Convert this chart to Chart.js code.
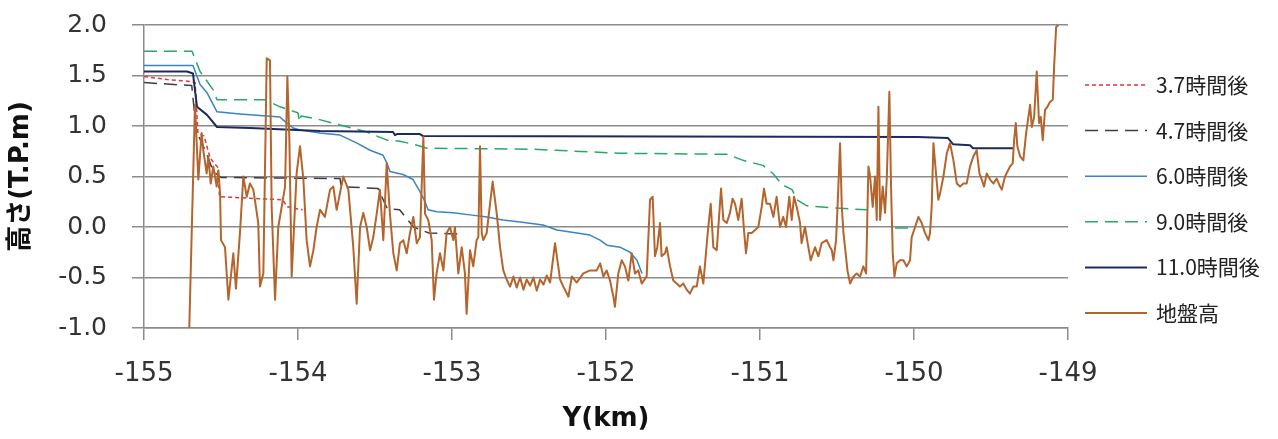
<!DOCTYPE html>
<html lang="ja">
<head>
<meta charset="utf-8">
<title>地盤高と浸水高</title>
<script src="https://cdn.jsdelivr.net/npm/chart.js@4.4.1/dist/chart.umd.min.js"></script>
<style>
  html, body { margin: 0; padding: 0; background: #ffffff; }
  #wrap { width: 1278px; height: 439px; }
</style>
</head>
<body>
<div id="wrap"><canvas id="profile" width="1278" height="439"></canvas></div>
<script>
// Axis ranges
const kmRange = [-155, -149];
const levelRange = [-1.0, 2.0];

// Series labels (legend order)
const seriesLabels = ['3.7時間後', '4.7時間後', '6.0時間後', '9.0時間後', '11.0時間後', '地盤高'];

// Water level along the profile, [Y(km), T.P.m]
const level37h = [
  [-155.000, 1.49], [-154.850, 1.46], [-154.690, 1.44], [-154.668, 1.43], [-154.650, 0.93],
  [-154.610, 0.90], [-154.570, 0.68], [-154.520, 0.59], [-154.510, 0.30], [-154.250, 0.28],
  [-154.100, 0.27], [-154.070, 0.20], [-153.970, 0.17]
];
const level47h = [
  [-155.000, 1.43], [-154.690, 1.40], [-154.660, 0.95], [-154.600, 0.75], [-154.550, 0.55],
  [-154.500, 0.49], [-153.727, 0.48], [-153.720, 0.40], [-153.480, 0.38], [-153.420, 0.18],
  [-153.340, 0.17], [-153.250, 0.00], [-153.150, -0.06], [-152.930, -0.07]
];
const level60h = [
  [-155.000, 1.60], [-154.682, 1.60], [-154.636, 1.41], [-154.591, 1.33], [-154.526, 1.14],
  [-154.377, 1.12], [-154.117, 1.09], [-154.097, 1.06], [-154.032, 0.98], [-153.987, 0.96],
  [-153.857, 0.93], [-153.727, 0.91], [-153.617, 0.83], [-153.532, 0.76], [-153.448, 0.71],
  [-153.422, 0.63], [-153.403, 0.55], [-153.318, 0.52], [-153.253, 0.47], [-153.208, 0.35],
  [-153.175, 0.25], [-153.156, 0.17], [-153.097, 0.15], [-152.994, 0.14], [-152.883, 0.12],
  [-152.773, 0.10], [-152.669, 0.07], [-152.558, 0.05], [-152.409, 0.02], [-152.318, -0.03],
  [-152.188, -0.06], [-152.104, -0.08], [-152.039, -0.13], [-151.994, -0.18], [-151.909, -0.20],
  [-151.844, -0.25], [-151.799, -0.33], [-151.766, -0.46]
];
const level90h = [
  [-155.000, 1.74], [-154.688, 1.74], [-154.636, 1.54], [-154.552, 1.36], [-154.526, 1.26],
  [-154.214, 1.26], [-154.117, 1.19], [-154.000, 1.13], [-153.990, 1.04], [-153.980, 1.10],
  [-153.877, 1.07], [-153.727, 1.01], [-153.552, 0.94], [-153.422, 0.86], [-153.338, 0.85],
  [-153.227, 0.81], [-153.162, 0.78], [-152.474, 0.77], [-151.909, 0.73], [-151.214, 0.72],
  [-151.110, 0.66], [-150.981, 0.61], [-150.916, 0.53], [-150.857, 0.42], [-150.792, 0.37],
  [-150.760, 0.27], [-150.695, 0.21], [-150.526, 0.19], [-150.305, 0.17], [-150.200, null],
  [-150.123, -0.01], [-150.013, -0.01]
];
const level110h = [
  [-155.000, 1.54], [-154.721, 1.54], [-154.682, 1.52], [-154.656, 1.19], [-154.591, 1.11],
  [-154.526, 0.99], [-154.312, 0.98], [-153.857, 0.95], [-153.383, 0.94], [-153.370, 0.91],
  [-153.357, 0.92], [-153.208, 0.92], [-153.188, 0.90], [-149.974, 0.89], [-149.779, 0.88],
  [-149.747, 0.82], [-149.636, 0.81], [-149.617, 0.78], [-149.357, 0.78]
];

// Ground elevation profile, [Y(km), T.P.m]
const groundProfile = [
  [-154.706, -1.00], [-154.669, 1.21], [-154.647, 0.47], [-154.626, 0.93], [-154.615, 0.76],
  [-154.593, 0.53], [-154.582, 0.70], [-154.567, 0.43], [-154.550, 0.60], [-154.528, 0.40],
  [-154.517, 0.56], [-154.506, 0.33], [-154.500, -0.13], [-154.474, -0.20], [-154.452, -0.72],
  [-154.420, -0.26], [-154.403, -0.61], [-154.377, -0.06], [-154.355, 0.50], [-154.333, 0.30],
  [-154.312, 0.43], [-154.290, 0.37], [-154.258, 0.04], [-154.247, -0.59], [-154.225, -0.46],
  [-154.203, 1.67], [-154.182, 1.65], [-154.171, 0.20], [-154.149, -0.72], [-154.128, 0.00],
  [-154.106, 0.20], [-154.084, 0.40], [-154.069, 1.49], [-154.056, 0.86], [-154.041, -0.49],
  [-154.009, 0.53], [-153.987, 0.80], [-153.965, 0.47], [-153.944, -0.13], [-153.922, -0.39],
  [-153.900, -0.23], [-153.879, 0.00], [-153.857, 0.17], [-153.825, 0.10], [-153.792, 0.37],
  [-153.771, 0.40], [-153.749, 0.17], [-153.706, 0.50], [-153.673, 0.37], [-153.641, -0.20],
  [-153.619, -0.76], [-153.597, 0.00], [-153.576, 0.14], [-153.554, 0.00], [-153.532, -0.23],
  [-153.511, -0.10], [-153.489, 0.13], [-153.468, 0.37], [-153.446, -0.13], [-153.424, 0.63],
  [-153.403, 0.13], [-153.381, -0.26], [-153.359, -0.43], [-153.338, -0.16], [-153.316, -0.13],
  [-153.294, -0.26], [-153.273, -0.06], [-153.251, 0.10], [-153.229, -0.16], [-153.208, -0.10],
  [-153.186, 0.89], [-153.175, 0.13], [-153.154, 0.07], [-153.132, -0.13], [-153.117, -0.72],
  [-153.100, -0.46], [-153.078, -0.26], [-153.056, -0.43], [-153.035, -0.06], [-153.013, 0.00],
  [-152.991, -0.13], [-152.981, 0.00], [-152.959, -0.46], [-152.937, -0.20], [-152.916, -0.46],
  [-152.905, -0.86], [-152.883, -0.23], [-152.862, -0.39], [-152.840, -0.13], [-152.829, -0.10],
  [-152.818, 0.80], [-152.807, -0.06], [-152.797, -0.13], [-152.775, -0.06], [-152.753, 0.23],
  [-152.736, 0.45], [-152.710, 0.14], [-152.688, -0.20], [-152.667, -0.43], [-152.645, -0.52],
  [-152.623, -0.59], [-152.601, -0.49], [-152.580, -0.60], [-152.558, -0.50], [-152.536, -0.62],
  [-152.515, -0.52], [-152.493, -0.58], [-152.471, -0.50], [-152.450, -0.63], [-152.428, -0.52],
  [-152.406, -0.57], [-152.385, -0.48], [-152.363, -0.55], [-152.331, -0.16], [-152.298, -0.52],
  [-152.277, -0.59], [-152.244, -0.69], [-152.222, -0.49], [-152.190, -0.55], [-152.147, -0.46],
  [-152.103, -0.43], [-152.060, -0.43], [-152.038, -0.36], [-152.017, -0.49], [-151.996, -0.43],
  [-151.974, -0.53], [-151.952, -0.69], [-151.942, -0.79], [-151.920, -0.46], [-151.898, -0.33],
  [-151.877, -0.39], [-151.855, -0.53], [-151.833, -0.26], [-151.812, -0.46], [-151.790, -0.43],
  [-151.768, -0.56], [-151.736, -0.49], [-151.714, 0.27], [-151.697, 0.30], [-151.682, -0.29],
  [-151.667, -0.20], [-151.649, 0.04], [-151.639, -0.29], [-151.617, -0.26], [-151.606, -0.20],
  [-151.584, -0.39], [-151.563, -0.53], [-151.541, -0.56], [-151.520, -0.59], [-151.498, -0.56],
  [-151.476, -0.62], [-151.455, -0.66], [-151.433, -0.59], [-151.411, -0.59], [-151.390, -0.39],
  [-151.368, -0.56], [-151.351, -0.26], [-151.336, 0.00], [-151.320, 0.23], [-151.303, -0.20],
  [-151.281, -0.23], [-151.264, 0.14], [-151.253, 0.38], [-151.238, 0.07], [-151.216, 0.04],
  [-151.195, 0.14], [-151.178, 0.28], [-151.162, 0.23], [-151.141, 0.07], [-151.119, 0.28],
  [-151.104, -0.03], [-151.091, -0.26], [-151.076, -0.06], [-151.054, -0.06], [-151.032, -0.03],
  [-151.011, 0.00], [-150.989, 0.20], [-150.974, 0.38], [-150.957, 0.23], [-150.935, 0.23],
  [-150.913, 0.10], [-150.892, 0.30], [-150.870, 0.00], [-150.849, 0.10], [-150.831, 0.00],
  [-150.810, 0.30], [-150.794, 0.07], [-150.779, 0.30], [-150.762, 0.20], [-150.740, 0.04],
  [-150.730, -0.16], [-150.708, 0.00], [-150.686, -0.20], [-150.671, -0.33], [-150.643, -0.20],
  [-150.621, -0.29], [-150.600, -0.16], [-150.567, -0.13], [-150.545, -0.20], [-150.534, -0.23],
  [-150.523, -0.33], [-150.506, -0.13], [-150.491, 0.40], [-150.480, 0.83], [-150.469, 0.20],
  [-150.458, -0.06], [-150.448, -0.20], [-150.432, -0.43], [-150.415, -0.56], [-150.393, -0.49],
  [-150.372, -0.46], [-150.350, -0.49], [-150.329, -0.39], [-150.311, -0.46], [-150.296, 0.60],
  [-150.285, 0.50], [-150.268, 0.20], [-150.253, 0.50], [-150.242, 0.07], [-150.231, 1.19],
  [-150.220, 0.07], [-150.203, 0.40], [-150.188, 0.14], [-150.177, 0.47], [-150.160, 1.34],
  [-150.149, 0.40], [-150.138, -0.26], [-150.127, -0.49], [-150.112, -0.36], [-150.090, -0.33],
  [-150.069, -0.33], [-150.047, -0.39], [-150.026, -0.33], [-150.015, -0.10], [-149.993, 0.00],
  [-149.971, 0.10], [-149.950, 0.04], [-149.928, -0.06], [-149.906, -0.13], [-149.896, -0.06],
  [-149.885, 0.20], [-149.874, 0.83], [-149.857, 0.53], [-149.842, 0.27], [-149.831, 0.33],
  [-149.809, 0.50], [-149.787, 0.73], [-149.766, 0.83], [-149.744, 0.66], [-149.722, 0.43],
  [-149.701, 0.40], [-149.679, 0.43], [-149.658, 0.43], [-149.636, 0.60], [-149.614, 0.70],
  [-149.593, 0.76], [-149.575, 0.53], [-149.560, 0.47], [-149.545, 0.40], [-149.528, 0.53],
  [-149.506, 0.47], [-149.484, 0.43], [-149.463, 0.48], [-149.441, 0.40], [-149.430, 0.37],
  [-149.409, 0.50], [-149.376, 0.60], [-149.359, 0.63], [-149.350, 0.86], [-149.339, 1.03],
  [-149.329, 0.80], [-149.311, 0.70], [-149.290, 0.66], [-149.272, 0.93], [-149.257, 1.09],
  [-149.246, 1.21], [-149.235, 0.99], [-149.220, 1.09], [-149.203, 1.54], [-149.188, 1.03],
  [-149.177, 1.09], [-149.164, 0.86], [-149.149, 1.16], [-149.134, 1.19], [-149.116, 1.24],
  [-149.099, 1.26], [-149.090, 1.59], [-149.077, 1.98], [-149.062, 2.00]
];

const toPoints = (rows) => rows.map(([x, y]) => ({ x, y }));

const seriesStyle = [
  { data: level37h,       color: '#e0353f', width: 1.5, dash: [4, 3],  order: 6 },
  { data: level47h,       color: '#3d3d48', width: 1.5, dash: [13, 7], order: 5 },
  { data: level60h,       color: '#3a84c6', width: 1.5, dash: [],      order: 4 },
  { data: level90h,       color: '#27a86a', width: 1.5, dash: [13, 7], order: 3 },
  { data: level110h,      color: '#1d2b5c', width: 2,   dash: [],      order: 2 },
  { data: groundProfile,  color: '#b4642c', width: 2,   dash: [],      order: 1 }
];

const datasets = seriesStyle.map((s, i) => ({
  label: seriesLabels[i],
  data: toPoints(s.data),
  borderColor: s.color,
  backgroundColor: s.color,
  borderWidth: s.width,
  borderDash: s.dash,
  borderJoinStyle: 'round',
  pointRadius: 0,
  pointHoverRadius: 0,
  tension: 0,
  spanGaps: false,
  fill: false,
  order: s.order
}));

// Legend drawn as a column of line samples beside the plot
const sideLegend = {
  id: 'sideLegend',
  afterDraw(chart, args, opts) {
    const ctx = chart.ctx;
    ctx.save();
    chart.data.datasets.forEach((ds, i) => {
      const y = opts.top + i * opts.rowGap;
      ctx.beginPath();
      ctx.setLineDash(ds.borderDash || []);
      ctx.lineWidth = ds.borderWidth;
      ctx.strokeStyle = ds.borderColor;
      ctx.moveTo(opts.x, y);
      ctx.lineTo(opts.x + opts.sample, y);
      ctx.stroke();
      ctx.setLineDash([]);
      ctx.font = opts.font;
      ctx.fillStyle = opts.color;
      ctx.textAlign = 'left';
      ctx.textBaseline = 'middle';
      ctx.fillText(ds.label, opts.x + opts.sample + opts.gap, y);
    });
    ctx.restore();
  }
};

const gridGrey = '#8c8c8c';
const tickFont = { family: '"DejaVu Sans", "Noto Sans CJK JP", sans-serif', size: 25 };
const xTickFont = { family: '"DejaVu Sans", "Noto Sans CJK JP", sans-serif', size: 26 };
const titleFont = { family: '"DejaVu Sans", "Noto Sans CJK JP", sans-serif', size: 26, weight: 'bold' };

new Chart(document.getElementById('profile'), {
  type: 'line',
  data: { datasets },
  plugins: [sideLegend],
  options: {
    responsive: false,
    animation: false,
    devicePixelRatio: 1,
    layout: { padding: { top: 25, right: 210, bottom: 0, left: 0 } },
    plugins: {
      legend: { display: false },
      tooltip: { enabled: false },
      sideLegend: {
        x: 1085, sample: 62, gap: 9, top: 85, rowGap: 45.6,
        font: '21px "Noto Sans CJK JP", "DejaVu Sans", sans-serif',
        color: '#222222'
      }
    },
    scales: {
      x: {
        type: 'linear',
        min: kmRange[0],
        max: kmRange[1],
        afterFit: (scale) => { scale.height = 111; },
        ticks: {
          stepSize: 1,
          font: xTickFont,
          color: '#333333',
          padding: 19,
          maxRotation: 0,
          callback: (v) => String(v)
        },
        grid: {
          drawOnChartArea: false,
          drawTicks: true,
          tickLength: 12,
          color: gridGrey,
          lineWidth: 1.5
        },
        border: { display: true, color: gridGrey, width: 1.5 },
        title: {
          display: true,
          text: 'Y(km)',
          font: titleFont,
          color: '#111111',
          padding: { top: 0, bottom: 4 }
        }
      },
      y: {
        type: 'linear',
        min: levelRange[0],
        max: levelRange[1],
        afterFit: (scale) => {
          scale.width = 144;
          scale.paddingTop = 0;
          scale.paddingBottom = 0;
        },
        ticks: {
          stepSize: 0.5,
          font: tickFont,
          color: '#333333',
          padding: 25,
          callback: (v) => Number(v).toFixed(1)
        },
        grid: {
          drawTicks: true,
          tickLength: 12,
          color: gridGrey,
          lineWidth: 1.5
        },
        border: { display: true, color: gridGrey, width: 1.5 },
        title: {
          display: true,
          text: '高さ(T.P.m)',
          font: titleFont,
          color: '#111111',
          padding: { top: 6, bottom: 0 }
        }
      }
    }
  }
});
</script>
</body>
</html>
